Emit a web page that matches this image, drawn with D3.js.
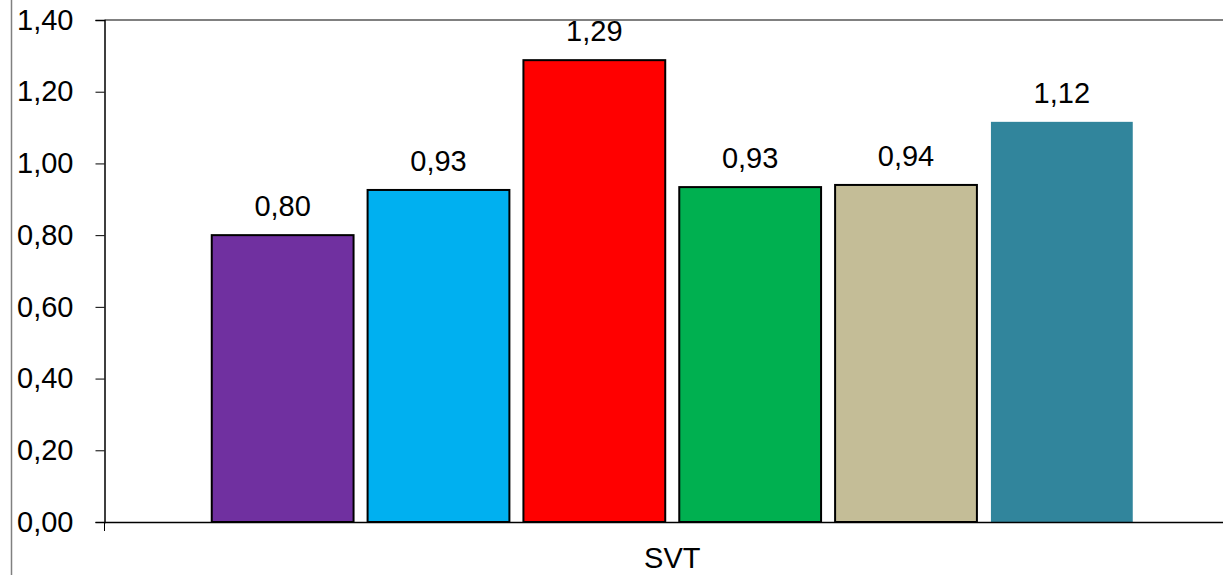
<!DOCTYPE html>
<html><head><meta charset="utf-8">
<script src="https://cdn.jsdelivr.net/npm/d3@7"></script>
<style>body{margin:0;background:#fff}svg{display:block}text{font-family:"Liberation Sans",Arial,sans-serif;fill:#000}</style>
</head><body>
<svg id="c" width="1223" height="575"></svg>
<script>
const categories = ["SVT"];
const seriesNames = ["S1","S2","S3","S4","S5","S6"];
const values = [0.80, 0.926, 1.288, 0.934, 0.94, 1.116];
const labels = ["0,80","0,93","1,29","0,93","0,94","1,12"];
const colors = ["#7030A0","#00B0F0","#FF0000","#00B050","#C4BD97","#31859C"];
const strokes = ["#000","#000","#000","#000","#000","none"];
const yTicks = [0,0.2,0.4,0.6,0.8,1.0,1.2,1.4];

const svg = d3.select("#c");
const L=104.5, R=1223, T=20, B=522;
const FS = 29;
const y = d3.scaleLinear().domain([0,1.4]).range([B,T]);
const x0 = d3.scaleBand().domain(categories).range([L,1240]);
const groupW = 921;
const x1 = d3.scaleBand().domain(seriesNames).range([0,groupW]).paddingInner(0.09).paddingOuter(0);

// left frame line
svg.append("line").attr("x1",11.5).attr("x2",11.5).attr("y1",0).attr("y2",575).attr("stroke","#808080").attr("stroke-width",1.5);
// top gray border
svg.append("line").attr("x1",L).attr("x2",R).attr("y1",T).attr("y2",T).attr("stroke","#808080").attr("stroke-width",2);

const gx = x0("SVT") + (x0.bandwidth()-groupW)/2;
svg.selectAll("rect.bar").data(values).enter().append("rect")
  .attr("x",(d,i)=>gx+x1(seriesNames[i]))
  .attr("y",d=>y(d)).attr("width",x1.bandwidth()).attr("height",d=>B-y(d))
  .attr("fill",(d,i)=>colors[i]).attr("stroke",(d,i)=>strokes[i]).attr("stroke-width",2);

svg.selectAll("text.lab").data(values).enter().append("text")
  .attr("x",(d,i)=>gx+x1(seriesNames[i])+x1.bandwidth()/2)
  .attr("y",d=>y(d)-19).attr("text-anchor","middle").attr("font-size",FS)
  .text((d,i)=>labels[i]);

// y axis
const yAxis = d3.axisLeft(y).tickValues(yTicks).tickSize(9).tickPadding(22)
  .tickFormat(d=>d3.format(".2f")(d).replace(".",","));
const ga = svg.append("g").attr("transform",`translate(${L},0)`).call(yAxis);
ga.select(".domain").attr("stroke","#000").attr("stroke-width",1.5);
ga.selectAll(".tick line").attr("stroke","#000");
ga.selectAll(".tick text").attr("font-size",FS).attr("font-family","Liberation Sans, Arial, sans-serif").attr("fill","#000");

// x axis
const xAxis = d3.axisBottom(x0).tickSize(0).tickPadding(25);
const gb = svg.append("g").attr("transform",`translate(0,${B})`).call(xAxis);
gb.select(".domain").attr("stroke","#000").attr("stroke-width",1.5);
gb.selectAll(".tick text").attr("font-size",FS).attr("font-family","Liberation Sans, Arial, sans-serif").attr("fill","#000");
svg.append("line").attr("x1",L).attr("x2",L).attr("y1",B).attr("y2",B+9).attr("stroke","#000");
</script>
</body></html>
